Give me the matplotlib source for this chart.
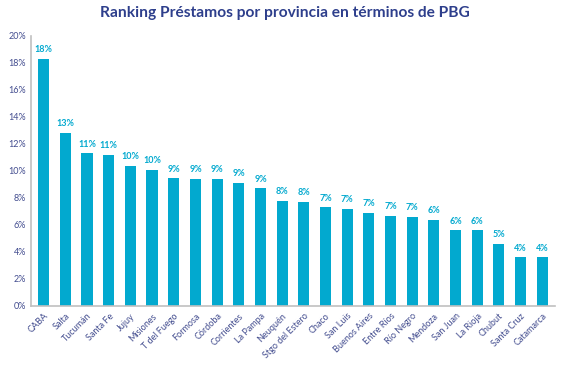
import numpy as np
import matplotlib
matplotlib.use("Agg")
import matplotlib.pyplot as plt
from matplotlib.ticker import PercentFormatter

# provincias y ratio préstamos / PBG (%)
provincias = ["CABA", "Salta", "Tucumán", "Santa Fe", "Jujuy", "Misiones", "T del Fuego",
              "Formosa", "Córdoba", "Corrientes", "La Pampa", "Neuquén", "Stgo del Estero",
              "Chaco", "San Luis", "Buenos Aires", "Entre Ríos", "Río Negro", "Mendoza",
              "San Juan", "La Rioja", "Chubut", "Santa Cruz", "Catamarca"]
valores = [18.3, 12.8, 11.3, 11.2, 10.4, 10.1, 9.45, 9.4, 9.4, 9.1, 8.7, 7.8, 7.7,
           7.3, 7.2, 6.9, 6.7, 6.6, 6.4, 5.6, 5.6, 4.6, 3.6, 3.6]
yticks = np.arange(0, 21, 2)

azul = "#02a9cf"
texto = "#434d8f"

plt.rcParams['font.family'] = ['Lato', 'DejaVu Sans']

fig = plt.figure(figsize=(5.7, 3.7), dpi=100)
ax = fig.add_axes([0.054, 0.173, 0.92, 0.73])

x = np.arange(len(provincias))
bars = ax.bar(x, valores, width=0.52, color=azul)
for xi, v in zip(x, valores):
    ax.text(xi, v + 0.35, "%d%%" % round(v), ha="center", va="bottom",
            fontsize=6.5, color=azul, fontweight="bold")

ax.set_ylim(0, 20)
ax.set_xlim(-0.6, len(provincias) - 0.4)
ax.set_yticks(yticks)
ax.yaxis.set_major_formatter(PercentFormatter(decimals=0))
ax.set_xticks(x)
ax.set_xticklabels(provincias, rotation=45, ha="right", rotation_mode="anchor")
ax.tick_params(axis="both", labelsize=6.5, colors=texto, length=0)
ax.tick_params(axis="x", pad=4)
for s in ["top", "right"]:
    ax.spines[s].set_visible(False)
for s in ["left", "bottom"]:
    ax.spines[s].set_color("#c0c0c0")
    ax.spines[s].set_linewidth(1.2)

fig.suptitle("Ranking Préstamos por provincia en términos de PBG", x=0.5, y=0.985,
             fontsize=11.2, fontweight="bold", color="#2e3f8c")

fig.savefig("out.png", dpi=100)
